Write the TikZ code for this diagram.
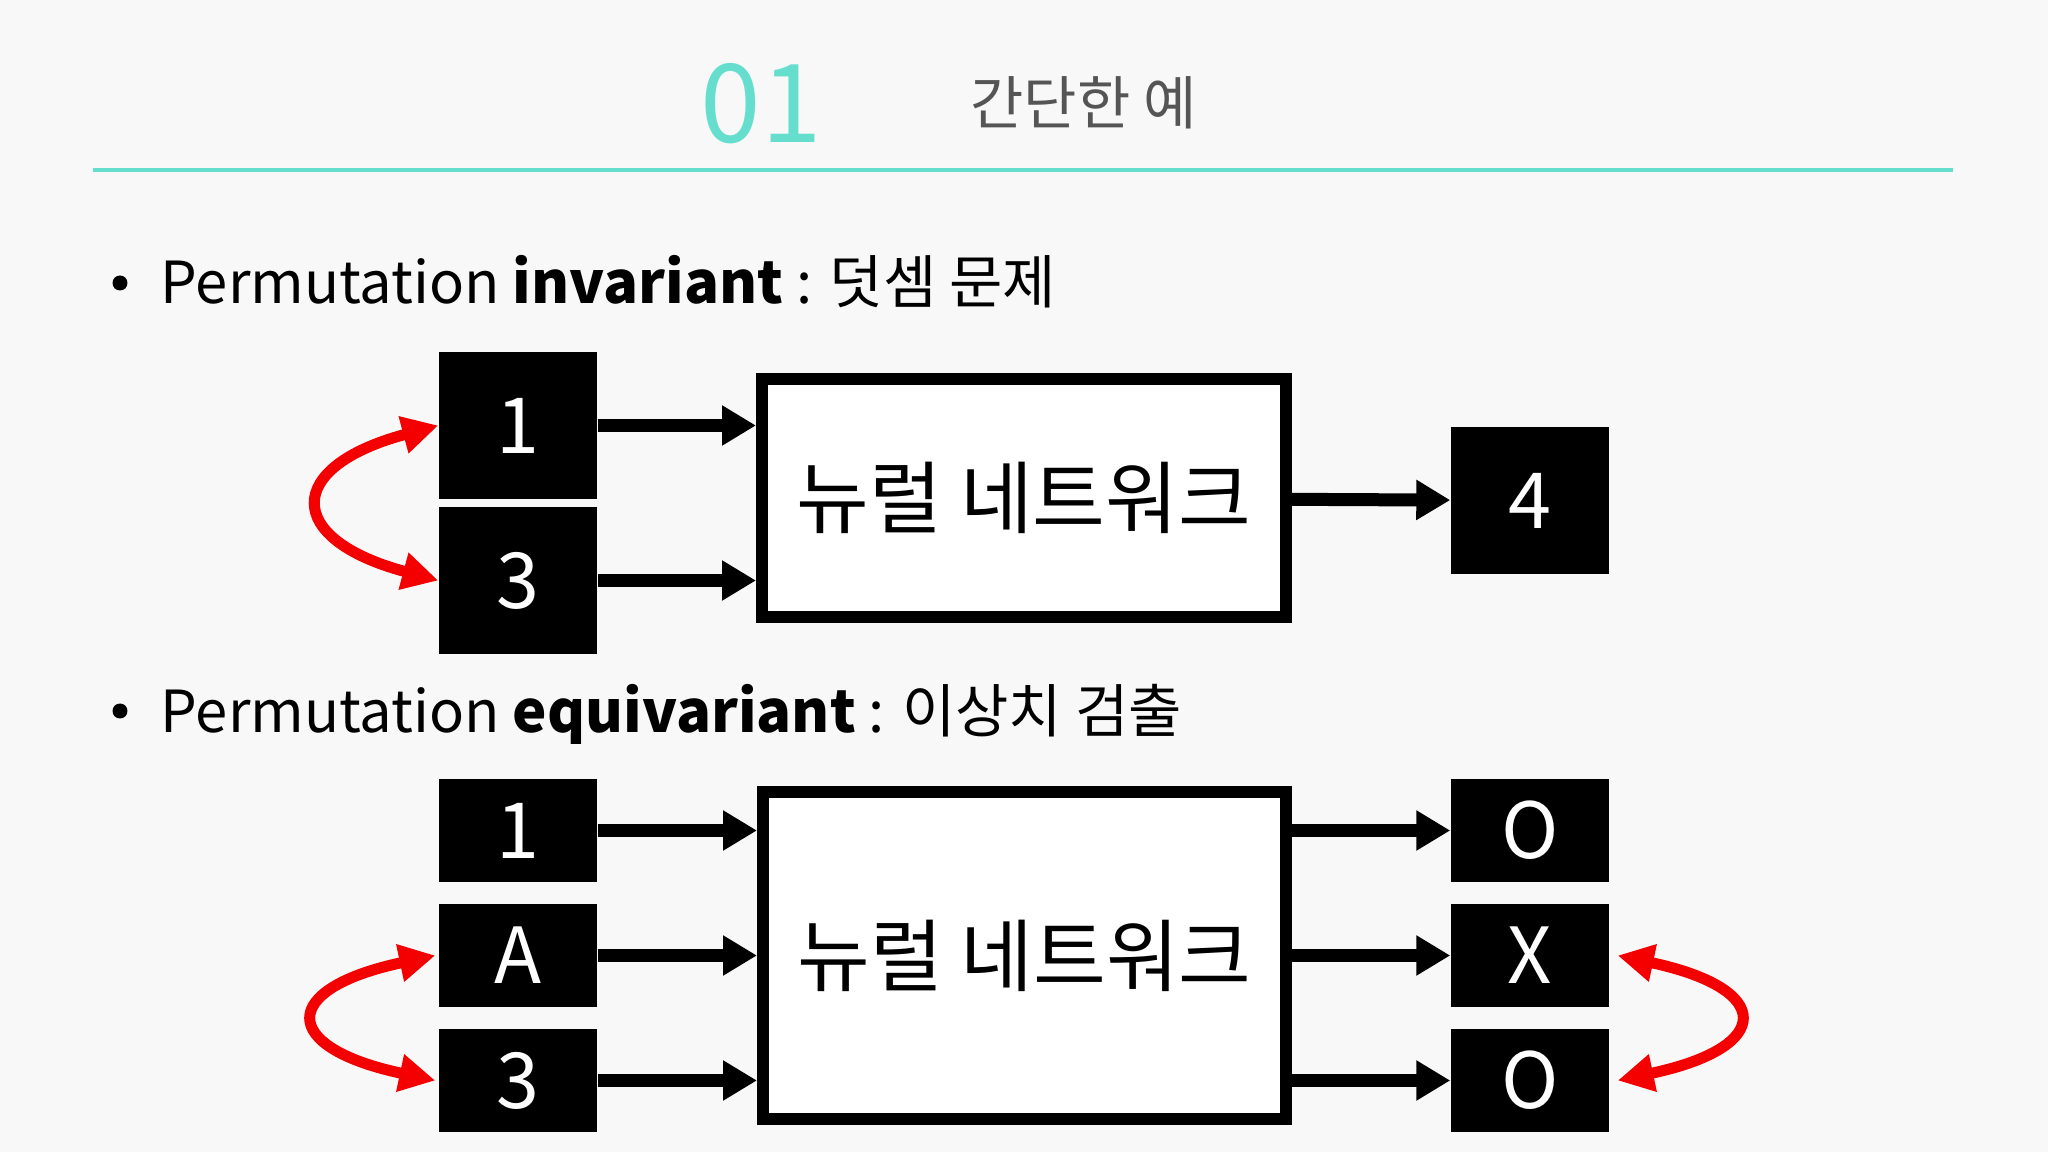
\documentclass[tikz,border=0pt]{standalone}
\usepackage{fontspec}
\setmainfont{Noto Sans CJK KR}
\usepackage{tikz}
\usepackage{xcolor}
\usetikzlibrary{arrows.meta, positioning, calc}

\definecolor{mint}{RGB}{102,222,205}
\definecolor{slide}{RGB}{248,248,249}
\definecolor{titlegray}{RGB}{85,85,85}
\definecolor{swapred}{RGB}{245,0,0}

\begin{document}
\begin{tikzpicture}[x=1cm, y=-1cm,
    >={Triangle[length=0.34cm, width=0.38cm]},
    cell/.style={fill=black, text=white, minimum width=1.58cm, minimum height=1.47cm, inner sep=0pt, font=\fontsize{22}{26}\selectfont},
    netbox/.style={draw=black, fill=white, line width=0.12cm, inner sep=0pt, font=\fontsize{22.5}{26}\selectfont},
    feed/.style={->, line width=0.13cm},
    perm/.style={{Triangle[length=0.36cm, width=0.36cm]}-{Triangle[length=0.36cm, width=0.36cm]}, swapred, line width=0.11cm},
    bulletdot/.style={circle, fill, inner sep=0pt, minimum size=0.15cm},
    itemtext/.style={font=\fontsize{16.5}{20}\selectfont, anchor=base west, inner sep=0pt}]
    \fill [slide] (0,0) rectangle (20.48,11.52);
    \useasboundingbox (0,0) rectangle (20.48,11.52);

    % Title
    \node (num) at (7.61,1.035) [text=mint, font=\fontsize{31}{34}\selectfont, inner sep=0pt] {01};
    \node (title) at (10.835,1.03) [text=titlegray, font=\fontsize{16.5}{20}\selectfont, inner sep=0pt] {간단한 예};
    \draw [mint, line width=0.04cm] (0.93,1.70) -- (19.53,1.70);

    % Permutation invariant
    \node (dot1) at (1.20,2.83) [bulletdot] {};
    \node (item1) at (1.60,3.04) [itemtext] {Permutation \textbf{invariant} : 덧셈 문제};

    \node (a1) at (5.18,4.255) [cell] {1};
    \node (a3) at (5.18,5.805) [cell] {3};
    \node (net1) at (10.24,4.98) [netbox, minimum width=5.24cm, minimum height=2.38cm] {뉴럴 네트워크};
    \node (sum) at (15.30,5.005) [cell] {4};

    \draw [feed] (a1) -- (a1 -| net1.west);
    \draw [feed] (a3) -- (a3 -| net1.west);
    \draw [feed] (net1) -- (sum);
    \draw [perm] (a1.west) to [out=195, in=165, distance=1.6cm] (a3.west);

    % Permutation equivariant
    \node (dot2) at (1.20,7.11) [bulletdot] {};
    \node (item2) at (1.60,7.33) [itemtext] {Permutation \textbf{equivariant} : 이상치 검출};

    \node (b1) at (5.18,8.305) [cell, minimum height=1.03cm] {1};
    \node (bA) at (5.18,9.555) [cell, minimum height=1.03cm] {A};
    \node (b3) at (5.18,10.805) [cell, minimum height=1.03cm] {3};
    \node (net2) at (10.245,9.555) [netbox, minimum width=5.23cm, minimum height=3.27cm] {뉴럴 네트워크};
    \node (o1) at (15.30,8.305) [cell, minimum height=1.03cm] {O};
    \node (oX) at (15.30,9.555) [cell, minimum height=1.03cm] {X};
    \node (o3) at (15.30,10.805) [cell, minimum height=1.03cm] {O};

    \draw [feed] (b1) -- (b1 -| net2.west);
    \draw [feed] (bA) -- (net2);
    \draw [feed] (b3) -- (b3 -| net2.west);
    \draw [feed] (net2.east |- o1) -- (o1);
    \draw [feed] (net2) -- (oX);
    \draw [feed] (net2.east |- o3) -- (o3);
    \draw [perm] ([xshift=-0.03cm]bA.west) to [out=192, in=168, distance=1.6cm] ([xshift=-0.03cm]b3.west);
    \draw [perm] ([xshift=0.08cm]oX.east) to [out=-12, in=12, distance=1.6cm] ([xshift=0.08cm]o3.east);
\end{tikzpicture}
\end{document}
